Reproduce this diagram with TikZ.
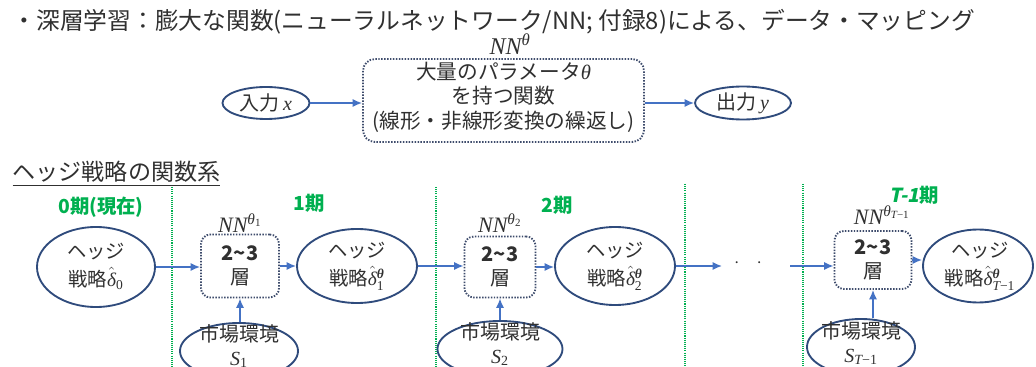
\documentclass[tikz,border=0pt]{standalone}
\usepackage{amsmath}
\usepackage[no-math]{fontspec}
\setmainfont{Noto Sans CJK JP}
\newfontfamily\slnt[FakeSlant=0.2]{Noto Sans CJK JP}
\newfontfamily\mitf{Liberation Serif}
\newcommand\vmi[1]{\text{\mitf\itshape #1}}
\newcommand\vmr[1]{\text{\mitf #1}}
\newcommand\vmb[1]{\text{\mitf\bfseries\itshape #1}}
\newcommand\hdel{\smash[t]{\hat{\vmi{δ}}}}
\usetikzlibrary{shapes.geometric,arrows.meta}
\definecolor{edgeblue}{HTML}{2F4B7C}
\definecolor{arrblue}{HTML}{4472C4}
\definecolor{boxgray}{HTML}{3E4C6C}
\definecolor{pgreen}{HTML}{00B050}
\definecolor{txtc}{HTML}{303030}
\begin{document}
\begin{tikzpicture}[x=0.75pt,y=-0.75pt,
  ell/.style={ellipse, draw=edgeblue, line width=1.4pt, inner sep=0pt},
  nnbox/.style={draw=boxgray, line width=1.4pt, dash pattern=on 1.1pt off 1.1pt, inner sep=0pt, align=center, text=txtc},
  arr/.style={draw=arrblue, line width=1.1pt, -{Latex[length=7pt,width=6pt]}},
  per/.style={text=pgreen, font=\fontsize{14.5}{17}\selectfont\bfseries},
  vline/.style={draw=pgreen, line width=1.1pt, dash pattern=on 0.8pt off 0.8pt},
  txt/.style={text=txtc, align=center},
]
\useasboundingbox (0,0) rectangle (1036,367);

% title
\node[txt, anchor=west, font=\fontsize{17.8}{20}\selectfont] (title) at (8,22) {・深層学習：膨大な関数(ニューラルネットワーク/NN; 付録8)による、データ・マッピング};

% top diagram
\node[ell, minimum width=65.25pt, minimum height=24pt] (inx) at (266,103) {};
\node[txt, font=\fontsize{15}{18}\selectfont] (inxt) at (inx) {入力\,$\vmi{x}$};
\node[nnbox, minimum width=210.75pt, minimum height=62.25pt, rounded corners=9pt] (nn) at (503.5,100.5) {};
\node[txt, font=\fontsize{15.5}{18.4}\selectfont] (nnt) at (503.5,97) {大量のパラメータ$\vmi{θ}$\\を持つ関数\\(線形・非線形変換の繰返し)};
\node[txt, font=\fontsize{18}{20}\selectfont] (nnlab) at (510,44) {$\vmi{NN}^{\vmi{θ}}$};
\node[ell, minimum width=72pt, minimum height=24.75pt] (outy) at (743,103) {};
\node[txt, font=\fontsize{15}{18}\selectfont] (outyt) at (outy) {出力\,$\vmi{y}$};
\draw[arr] (inx.east) -- (inx.east -| nn.west);
\draw[arr] (nn.east |- outy.west) -- (outy.west);

% section heading
\node[txt, anchor=west, font=\fontsize{17.3}{20}\selectfont] (sect) at (8,174) {\underline{ヘッジ戦略の関数系}};

% period separators
\draw[vline] (172,187) -- (172,367);
\draw[vline] (436,187) -- (436,367);
\draw[vline] (685,184) -- (685,367);
\draw[vline] (803,184) -- (803,367);

% period labels
\node[per] (p0) at (101,207) {0期(現在)};
\node[per] (p1) at (309,203) {1期};
\node[per] (p2) at (557,205) {2期};
\node[per] (pT) at (914,195) {{\slnt T-1}期};

% hedge strategy ellipses
\node[ell, minimum width=88.5pt, minimum height=60pt] (d0) at (96,267) {};
\node[txt, font=\fontsize{14.5}{21}\selectfont] (d0t) at (96,266) {ヘッジ\\戦略$\hdel_{\vmr{0}}$};
\node[ell, minimum width=90pt, minimum height=55.5pt] (d1) at (357,266) {};
\node[txt, font=\fontsize{14.5}{21}\selectfont] (d1t) at (357,266) {ヘッジ\\戦略$\hdel_{\vmr{1}}^{\vmb{θ}}$};
\node[ell, minimum width=90pt, minimum height=58.5pt] (d2) at (615,266) {};
\node[txt, font=\fontsize{14.5}{21}\selectfont] (d2t) at (615,266) {ヘッジ\\戦略$\hdel_{\vmr{2}}^{\vmb{θ}}$};
\node[ell, minimum width=82.5pt, minimum height=54.75pt] (dT) at (978,266) {};
\node[txt, font=\fontsize{14.5}{21}\selectfont] (dTt) at (980,266) {ヘッジ\\戦略$\hdel_{\vmi{T}\vmr{−1}}^{\vmb{θ}}$};

% NN boxes
\node[nnbox, minimum width=58.5pt, minimum height=47.25pt, rounded corners=7pt, font=\fontsize{15}{17.5}\selectfont] (b1) at (240,266) {\textbf{2\textasciitilde3}\\層};
\node[nnbox, minimum width=53.25pt, minimum height=45.75pt, rounded corners=7pt, font=\fontsize{15}{17.5}\selectfont] (b2) at (500,267) {\textbf{2\textasciitilde3}\\層};
\node[nnbox, minimum width=57.75pt, minimum height=43.5pt, rounded corners=7pt, font=\fontsize{15}{17.5}\selectfont] (bT) at (873,260) {\textbf{2\textasciitilde3}\\層};
\node[txt, font=\fontsize{16.5}{18}\selectfont] (b1l) at (240,223) {$\vmi{NN}^{\vmi{θ}_{\vmr{1}}}$};
\node[txt, font=\fontsize{16.5}{18}\selectfont] (b2l) at (500,223) {$\vmi{NN}^{\vmi{θ}_{\vmr{2}}}$};
\node[txt, font=\fontsize{16.5}{18}\selectfont] (bTl) at (882,215) {$\vmi{NN}^{\vmi{θ}_{\vmi{T}\vmr{−1}}}$};

% market ellipses
\node[ell, minimum width=88.5pt, minimum height=42pt] (m1) at (239,351) {};
\node[txt, font=\fontsize{15}{18}\selectfont] (m1t) at (239,346) {市場環境\\$\vmi{S}_{\vmr{1}}$};
\node[ell, minimum width=93.75pt, minimum height=42pt] (m2) at (500,349) {};
\node[txt, font=\fontsize{15}{18}\selectfont] (m2t) at (500,344) {市場環境\\$\vmi{S}_{\vmr{2}}$};
\node[ell, minimum width=81pt, minimum height=42pt] (mT) at (861,347) {};
\node[txt, font=\fontsize{15}{18}\selectfont] (mTt) at (861,343) {市場環境\\$\vmi{S}_{\vmi{T}\vmr{−1}}$};

% horizontal flow
\draw[arr] (d0.east) -- (d0.east -| b1.west);
\draw[arr] (b1.east) -- (b1.east -| d1.west);
\draw[arr] (d1.east) -- (d1.east -| b2.west);
\draw[arr] (b2.east) -- (b2.east -| d2.west);
\coordinate (gapA) at (722,266);
\draw[arr] (d2.east) -- (gapA);
\node[txt, font=\fontsize{15}{18}\selectfont] (dots) at (748,263) {$\cdot$\hspace{13pt}$\cdot$};
\coordinate (gapB) at (790,266);
\draw[arr] (gapB) -- (gapB -| bT.west);
\draw[arr] (bT.east) -- (bT.east -| dT.west);

% market inputs
\draw[arr] (b1.south |- m1.north) -- (b1.south);
\draw[arr] (b2.south |- m2.north) -- (b2.south);
\draw[arr] (bT.south |- mT.north) -- (bT.south);
\end{tikzpicture}
\end{document}
